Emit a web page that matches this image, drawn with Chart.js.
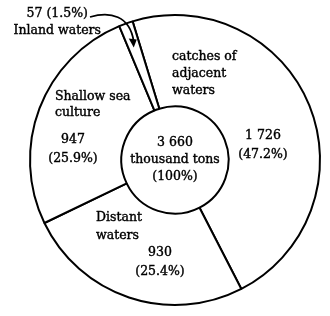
<!DOCTYPE html>
<html>
<head>
  <script src="https://cdn.jsdelivr.net/npm/chart.js@4/dist/chart.umd.min.js"></script>
  <style>
    html, body { margin: 0; padding: 0; background: #fff; }
  </style>
</head>
<body>
<div style="width:330px;height:316px">
<canvas id="pie-chart" width="330" height="316"></canvas>
</div>
<script>
  // catch by source, thousand tons (clockwise from the top)
  var sources = ["catches of adjacent waters", "Distant waters", "Shallow sea culture", "Inland waters"];
  var catchValues = [1726, 930, 947, 57];
  var catchShares = ["47.2%", "25.4%", "25.9%", "1.5%"];
  var totalLabel = ["3 660", "thousand tons", "(100%)"];

  // text placement, px offsets from the centre for a 145px radius
  var textLayout = [
    { name: [["catches of", -3, -103], ["adjacent", -3, -86], ["waters", -3, -69]], nameAlign: "left",
      value: [88, -24] },
    { name: [["Distant", -79, 58], ["waters", -79, 76]], nameAlign: "left",
      value: [-15, 93] },
    { name: [["Shallow sea", -120, -63], ["culture", -120, -47]], nameAlign: "left",
      value: [-102, -20] },
    { name: [["Inland waters", -74, -129]], nameAlign: "right",
      value: null, top: ["57 (1.5%)", -87, -146] }
  ];

  var fontFamily = "'DejaVu Serif', serif";

  var labelPlugin = {
    id: 'labels',
    afterDraw: function(chart) {
      var ctx = chart.ctx;
      var arc = chart.getDatasetMeta(0).data[0];
      var cx = arc.x, cy = arc.y, k = arc.outerRadius / 145;
      ctx.save();
      ctx.fillStyle = '#000';
      ctx.strokeStyle = '#000';
      ctx.lineWidth = 0.4;
      ctx.textBaseline = 'middle';
      ctx.font = '12.5px ' + fontFamily;
      function put(s, x, y) {
        ctx.fillText(s, x, y);
        ctx.strokeText(s, x, y);
      }
      textLayout.forEach(function(t, i) {
        ctx.textAlign = t.nameAlign;
        t.name.forEach(function(n) {
          put(n[0], cx + n[1] * k, cy + n[2] * k);
        });
        ctx.textAlign = 'center';
        if (t.value) {
          put(String(catchValues[i]).replace(/(\d)(\d{3})$/, '$1 $2'), cx + t.value[0] * k, cy + t.value[1] * k);
          put('(' + catchShares[i] + ')', cx + t.value[0] * k, cy + (t.value[1] + 19) * k);
        }
        if (t.top) {
          ctx.textAlign = 'right';
          put(t.top[0], cx + t.top[1] * k, cy + t.top[2] * k);
        }
      });
      // total in the hole
      ctx.textAlign = 'center';
      put(totalLabel[0], cx, cy - 17 * k);
      put(totalLabel[1], cx, cy);
      put(totalLabel[2], cx, cy + 17 * k);

      // arrow from the inland label into its thin slice
      var small = chart.getDatasetMeta(0).data[3];
      var mid = (small.startAngle + small.endAngle) / 2;
      var ex = cx + Math.cos(mid) * small.outerRadius * 0.84;
      var ey = cy + Math.sin(mid) * small.outerRadius * 0.84;
      var sx = cx - 85 * k, sy = cy - 143 * k;
      ctx.lineWidth = 1.8;
      ctx.beginPath();
      ctx.moveTo(sx, sy);
      ctx.bezierCurveTo(sx + 20 * k, sy - 6 * k, ex - 4 * k, ey - 30 * k, ex, ey - 4 * k);
      ctx.stroke();
      ctx.beginPath();
      ctx.moveTo(ex, ey + 2);
      ctx.lineTo(ex - 5, ey - 7);
      ctx.lineTo(ex + 3, ey - 6);
      ctx.closePath();
      ctx.fill();
      ctx.restore();
    }
  };

  new Chart(document.getElementById('pie-chart'), {
    type: 'doughnut',
    data: {
      labels: sources,
      datasets: [{
        data: catchValues,
        backgroundColor: '#fff',
        borderColor: '#000',
        borderWidth: 2
      }]
    },
    options: {
      responsive: false,
      animation: false,
      rotation: -17,
      cutout: '37%',
      layout: { padding: { left: 29, right: 9, top: 14, bottom: 10 } },
      plugins: {
        legend: { display: false },
        tooltip: { enabled: false }
      }
    },
    plugins: [labelPlugin]
  });
</script>
</body>
</html>
